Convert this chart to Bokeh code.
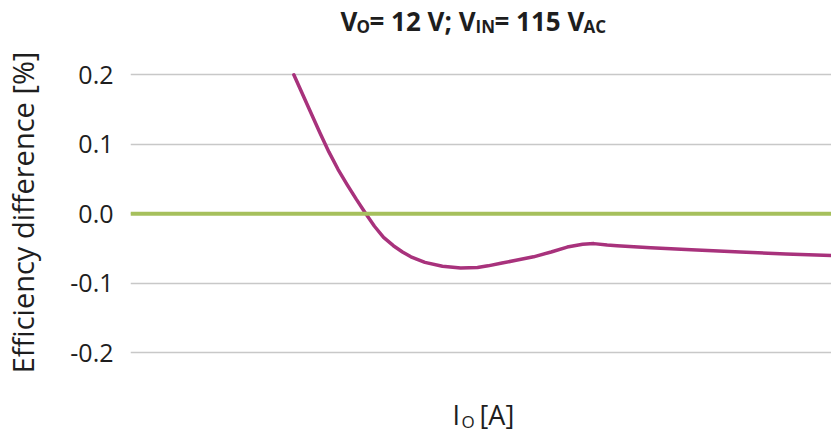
from bokeh.plotting import figure
from bokeh.models import Range1d, Span, Label, FixedTicker
from bokeh.embed import file_html
from bokeh.resources import INLINE

# ---- data ----
io_a = [2.33, 2.45, 2.57, 2.70, 2.83, 2.96, 3.09, 3.22, 3.35, 3.48, 3.61, 3.75,
        3.88, 4.00, 4.20, 4.45, 4.71, 4.95, 5.10, 5.30, 5.50, 5.75, 6.00, 6.23,
        6.45, 6.61, 6.80, 6.94, 7.42, 8.00, 8.70, 9.35, 10.0]
eff_diff = [0.200, 0.173, 0.146, 0.117, 0.089, 0.064, 0.042, 0.021, 0.001, -0.018,
            -0.034, -0.046, -0.055, -0.062, -0.070, -0.0755, -0.078, -0.0775, -0.075,
            -0.071, -0.067, -0.062, -0.055, -0.048, -0.044, -0.043, -0.045, -0.046,
            -0.049, -0.052, -0.055, -0.058, -0.060]
y_ticks = [-0.2, -0.1, 0.0, 0.1, 0.2]
y_tick_labels = {-0.2: "-0.2", -0.1: "-0.1", 0.0: "0.0", 0.1: "0.1", 0.2: "0.2"}

FONT = "Open Sans"
TXT = "#1e1e1e"
PURPLE = "#a8327c"
GREEN = "#a6c05c"

W, H = 831, 439
LEFT = 130
Y0, Y1 = -0.325, 0.307
p = figure(width=W, height=H, output_backend="svg", toolbar_location=None,
           x_range=Range1d(0, 10), y_range=Range1d(Y0, Y1),
           min_border_left=LEFT, min_border_right=0, min_border_top=0, min_border_bottom=0)
p.outline_line_color = None
p.background_fill_color = "white"
p.border_fill_color = "white"

p.xaxis.visible = False
p.xgrid.visible = False

ya = p.yaxis[0]
ya.ticker = FixedTicker(ticks=y_ticks)
ya.major_label_overrides = y_tick_labels
ya.axis_line_color = None
ya.major_tick_line_color = None
ya.minor_tick_line_color = None
ya.major_tick_in = 0
ya.major_tick_out = 0
ya.major_label_standoff = 17
ya.major_label_text_font = FONT
ya.major_label_text_font_size = "25px"
ya.major_label_text_color = TXT
# two no-break spaces at the start nudge the centred label upwards
ya.axis_label = "\u00a0\u00a0Efficiency difference [%]"
ya.axis_label_text_font = FONT
ya.axis_label_text_font_size = "29px"
ya.axis_label_text_font_style = "normal"
ya.axis_label_text_color = TXT
ya.axis_label_standoff = 25

p.ygrid.ticker = FixedTicker(ticks=y_ticks)
p.ygrid.grid_line_color = "#c8c8c8"
p.ygrid.grid_line_width = 1.5

p.add_layout(Span(location=0, dimension="width", line_color=GREEN, line_width=4))
p.line(io_a, eff_diff, line_color=PURPLE, line_width=3.5, line_join="round", line_cap="round")

def px_to_x(px):
    return (px - LEFT) / (W - LEFT) * 10.0

def py_to_y(py):
    return Y1 - py / H * (Y1 - Y0)

def add_text(text, px, py, size, bold=False):
    p.add_layout(Label(x=px_to_x(px), y=py_to_y(py), text=text, text_font=FONT,
                       text_font_size=size, text_font_style="bold" if bold else "normal",
                       text_color=TXT, text_align="left", text_baseline="alphabetic"))

# title: V_O= 12 V; V_IN= 115 V_AC
MAIN, SUB = "26px", "17px"
TB, SB = 20, 26
x = 340
add_text("V", x, TB, MAIN, True); x += 16
add_text("O", x, SB, SUB, True); x += 13
add_text("= 12 V; V", x, TB, MAIN, True); x += 106
add_text("IN", x, SB, SUB, True); x += 19
add_text("= 115 V", x, TB, MAIN, True); x += 89
add_text("AC", x, SB, SUB, True)

# x axis label: I_O [A]
add_text("I", 452, 414, "27px")
add_text("O", 461, 421, "17px")
add_text("[A]", 479, 414, "27px")

open("out.html", "w").write(file_html(p, INLINE))
